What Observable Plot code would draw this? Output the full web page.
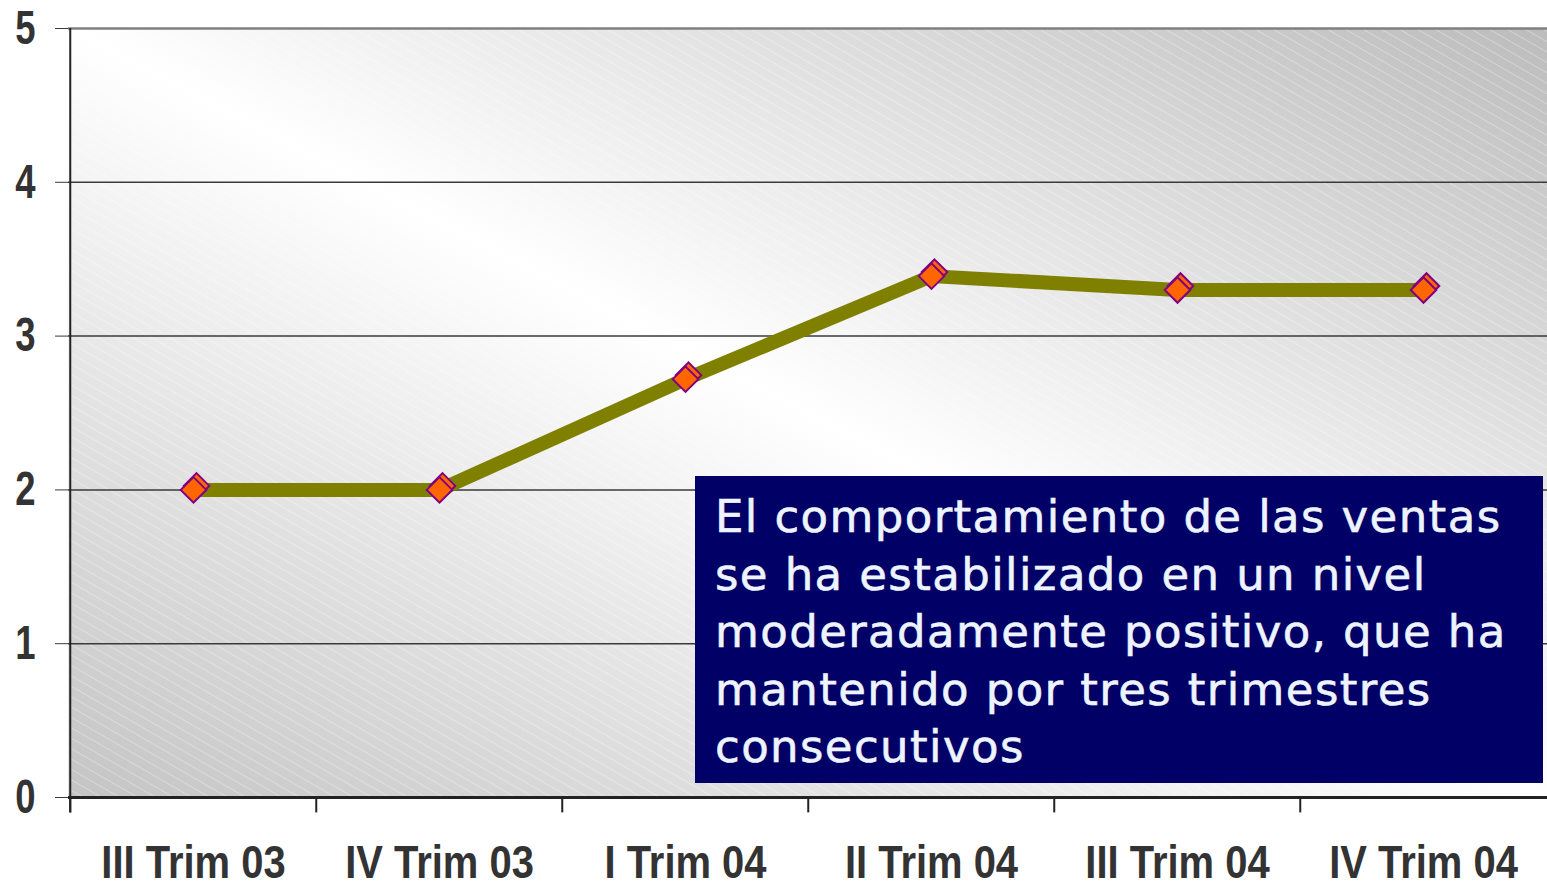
<!DOCTYPE html>
<html>
<head>
<meta charset="utf-8">
<script src="https://cdn.jsdelivr.net/npm/d3@7"></script>
<script src="https://cdn.jsdelivr.net/npm/@observablehq/plot@0.6"></script>
<style>
  html, body { margin: 0; padding: 0; background: #ffffff; overflow: hidden; }
  #wrap { position: relative; width: 1547px; height: 887px; }
  #note {
    position: absolute; left: 695px; top: 476px; width: 848px; height: 307px;
    box-sizing: border-box; padding: 12px 4px 0 20px;
    background: #000066; color: #eef4ff;
    font-family: "DejaVu Sans", Verdana, sans-serif; font-size: 45px; line-height: 57.5px;
    letter-spacing: 1.4px; -webkit-text-stroke: 0.6px #eef4ff;
  }
</style>
</head>
<body>
<div id="wrap"><div id="chart"></div><div id="note">El comportamiento de las ventas se ha estabilizado en un nivel moderadamente positivo, que ha mantenido por tres trimestres consecutivos</div></div>
<script>
const categories = ["III Trim 03", "IV Trim 03", "I Trim 04", "II Trim 04", "III Trim 04", "IV Trim 04"];
const values = [2.0, 2.0, 2.72, 3.39, 3.3, 3.3];
const yTicks = [0, 1, 2, 3, 4, 5];

const data = categories.map((c, i) => ({cat: c, value: values[i]}));

const W = 1547, H = 887, ML = 68, MR = 0;
const step = (W - ML - MR) / categories.length;
const tickFont = '"Liberation Sans", Arial, sans-serif';

const chart = Plot.plot({
  width: W, height: H,
  marginLeft: ML, marginRight: MR, marginTop: 28, marginBottom: 90,
  x: {type: "band", domain: categories, padding: 0},
  y: {domain: [0, 5]},
  style: {fontFamily: tickFont, background: "#ffffff"},
  marks: [
    Plot.frame({fill: "url(#bg)", stroke: null}),
    Plot.frame({fill: "url(#hatch)", stroke: null}),
    Plot.ruleY(yTicks.filter(t => t > 0 && t < 5), {stroke: "#3a3a3a", strokeWidth: 1.5}),
    Plot.ruleY([5], {stroke: "#808080", strokeWidth: 2.5}),
    Plot.axisY({ticks: yTicks, tickSize: 13, tickPadding: 20, fontSize: 48, fontWeight: "bold", color: "#333", stroke: "#3a3a3a", label: null, tickFormat: d => String(d)}),
    Plot.ruleX(categories, {x: d => d, y1: 0, y2: -0.1, dx: -step / 2, stroke: "#222", strokeWidth: 2}),
    Plot.ruleX([categories[0]], {x: d => d, y1: -0.1, y2: 5, dx: -step / 2, stroke: "#222", strokeWidth: 2}),
    Plot.ruleY([0], {stroke: "#222", strokeWidth: 3}),
    Plot.axisX({tickSize: 0, tickPadding: 47, fontSize: 47, fontWeight: "bold", color: "#333", label: null}),
    Plot.line(data, {x: "cat", y: "value", stroke: "#808000", strokeWidth: 14}),
    Plot.dot(data, {x: "cat", y: "value", symbol: "diamond2", r: 11.5, fill: "#ff6600", stroke: "#800080", strokeWidth: 2, dx: 3, dy: -4}),
    Plot.dot(data, {x: "cat", y: "value", symbol: "diamond2", r: 11.5, fill: "#ff6600", stroke: "#800080", strokeWidth: 2})
  ]
});

const ns = "http://www.w3.org/2000/svg";
const defs = document.createElementNS(ns, "defs");
defs.innerHTML = `
  <linearGradient id="bg" x1="0" y1="1" x2="1" y2="0">
    <stop offset="0" stop-color="#c4c4c4"/>
    <stop offset="0.5" stop-color="#ffffff"/>
    <stop offset="1" stop-color="#bcbcbc"/>
  </linearGradient>
  <pattern id="hatch" width="9" height="9" patternUnits="userSpaceOnUse" patternTransform="rotate(30)">
    <line x1="0" y1="0.5" x2="9" y2="0.5" stroke="#ffffff" stroke-opacity="0.3" stroke-width="1"/>
  </pattern>`;
chart.insertBefore(defs, chart.firstChild);
document.getElementById("chart").appendChild(chart);

// condense the tick labels horizontally (narrow bold face look)
function condense(selector, k) {
  chart.querySelectorAll(selector).forEach(t => {
    const tr = t.getAttribute("transform") || "";
    t.setAttribute("transform", `${tr} scale(${k},1)`.trim());
  });
}
condense('g[aria-label="x-axis tick label"] text', 0.85);
condense('g[aria-label="y-axis tick label"] text', 0.76);
</script>
</body>
</html>
